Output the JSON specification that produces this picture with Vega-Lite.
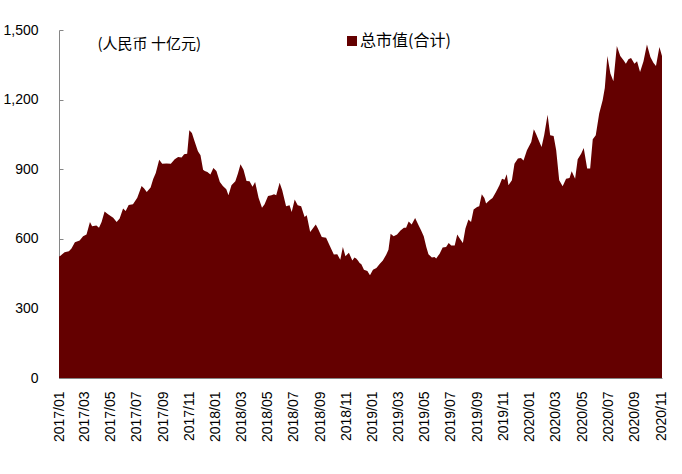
{
  "$schema": "https://vega.github.io/schema/vega-lite/v6.json",
  "autosize": "none",
  "padding": {"left": 59, "top": 30, "right": 20, "bottom": 96},
  "width": 603,
  "height": 348,
  "background": "#ffffff",
  "data": {
    "values": [
      {"date": "2017-01-01", "value": 525},
      {"date": "2017-01-03", "value": 525},
      {"date": "2017-01-14", "value": 542},
      {"date": "2017-01-24", "value": 546},
      {"date": "2017-01-30", "value": 558},
      {"date": "2017-02-07", "value": 585},
      {"date": "2017-02-18", "value": 593},
      {"date": "2017-02-26", "value": 611},
      {"date": "2017-03-06", "value": 619},
      {"date": "2017-03-14", "value": 672},
      {"date": "2017-03-19", "value": 654},
      {"date": "2017-03-29", "value": 657},
      {"date": "2017-04-04", "value": 648},
      {"date": "2017-04-10", "value": 672},
      {"date": "2017-04-17", "value": 718},
      {"date": "2017-04-25", "value": 706},
      {"date": "2017-05-07", "value": 691},
      {"date": "2017-05-15", "value": 672},
      {"date": "2017-05-22", "value": 687},
      {"date": "2017-05-30", "value": 731},
      {"date": "2017-06-05", "value": 720},
      {"date": "2017-06-12", "value": 746},
      {"date": "2017-06-22", "value": 749},
      {"date": "2017-07-02", "value": 777},
      {"date": "2017-07-12", "value": 828},
      {"date": "2017-07-18", "value": 817},
      {"date": "2017-07-24", "value": 802},
      {"date": "2017-08-02", "value": 821},
      {"date": "2017-08-08", "value": 858},
      {"date": "2017-08-14", "value": 884},
      {"date": "2017-08-22", "value": 941},
      {"date": "2017-08-29", "value": 924},
      {"date": "2017-09-08", "value": 925},
      {"date": "2017-09-18", "value": 924},
      {"date": "2017-09-27", "value": 943},
      {"date": "2017-10-05", "value": 953},
      {"date": "2017-10-13", "value": 950},
      {"date": "2017-10-19", "value": 964},
      {"date": "2017-10-26", "value": 967},
      {"date": "2017-10-31", "value": 1068},
      {"date": "2017-11-06", "value": 1056},
      {"date": "2017-11-12", "value": 1022},
      {"date": "2017-11-20", "value": 977},
      {"date": "2017-11-26", "value": 960},
      {"date": "2017-12-02", "value": 898},
      {"date": "2017-12-06", "value": 892},
      {"date": "2017-12-12", "value": 888},
      {"date": "2017-12-19", "value": 877},
      {"date": "2017-12-26", "value": 905},
      {"date": "2018-01-02", "value": 892},
      {"date": "2018-01-10", "value": 845},
      {"date": "2018-01-17", "value": 828},
      {"date": "2018-01-25", "value": 814},
      {"date": "2018-01-30", "value": 788},
      {"date": "2018-02-06", "value": 831},
      {"date": "2018-02-15", "value": 848},
      {"date": "2018-02-21", "value": 881},
      {"date": "2018-02-27", "value": 921},
      {"date": "2018-03-06", "value": 898},
      {"date": "2018-03-13", "value": 849},
      {"date": "2018-03-20", "value": 848},
      {"date": "2018-03-27", "value": 824},
      {"date": "2018-04-02", "value": 845},
      {"date": "2018-04-10", "value": 777},
      {"date": "2018-04-18", "value": 734},
      {"date": "2018-04-24", "value": 749},
      {"date": "2018-05-02", "value": 784},
      {"date": "2018-05-10", "value": 788},
      {"date": "2018-05-16", "value": 792},
      {"date": "2018-05-21", "value": 788},
      {"date": "2018-05-29", "value": 842},
      {"date": "2018-06-04", "value": 809},
      {"date": "2018-06-13", "value": 740},
      {"date": "2018-06-21", "value": 745},
      {"date": "2018-06-26", "value": 716},
      {"date": "2018-07-03", "value": 769},
      {"date": "2018-07-10", "value": 745},
      {"date": "2018-07-18", "value": 740},
      {"date": "2018-07-26", "value": 694},
      {"date": "2018-07-31", "value": 701},
      {"date": "2018-08-08", "value": 629},
      {"date": "2018-08-21", "value": 662},
      {"date": "2018-08-26", "value": 644},
      {"date": "2018-09-04", "value": 608},
      {"date": "2018-09-14", "value": 605},
      {"date": "2018-09-22", "value": 572},
      {"date": "2018-10-02", "value": 532},
      {"date": "2018-10-10", "value": 533},
      {"date": "2018-10-17", "value": 510},
      {"date": "2018-10-23", "value": 565},
      {"date": "2018-10-29", "value": 525},
      {"date": "2018-11-06", "value": 540},
      {"date": "2018-11-14", "value": 507},
      {"date": "2018-11-19", "value": 519},
      {"date": "2018-11-23", "value": 515},
      {"date": "2018-11-27", "value": 507},
      {"date": "2018-12-01", "value": 496},
      {"date": "2018-12-05", "value": 490},
      {"date": "2018-12-11", "value": 467},
      {"date": "2018-12-19", "value": 461},
      {"date": "2018-12-25", "value": 443},
      {"date": "2019-01-01", "value": 467},
      {"date": "2019-01-09", "value": 474},
      {"date": "2019-01-16", "value": 490},
      {"date": "2019-01-24", "value": 507},
      {"date": "2019-02-01", "value": 532},
      {"date": "2019-02-06", "value": 553},
      {"date": "2019-02-11", "value": 622},
      {"date": "2019-02-18", "value": 611},
      {"date": "2019-02-26", "value": 619},
      {"date": "2019-03-06", "value": 636},
      {"date": "2019-03-14", "value": 648},
      {"date": "2019-03-19", "value": 648},
      {"date": "2019-03-25", "value": 675},
      {"date": "2019-04-01", "value": 662},
      {"date": "2019-04-09", "value": 690},
      {"date": "2019-04-17", "value": 658},
      {"date": "2019-04-23", "value": 636},
      {"date": "2019-04-29", "value": 611},
      {"date": "2019-05-05", "value": 565},
      {"date": "2019-05-10", "value": 533},
      {"date": "2019-05-18", "value": 519},
      {"date": "2019-05-24", "value": 522},
      {"date": "2019-05-28", "value": 515},
      {"date": "2019-06-05", "value": 536},
      {"date": "2019-06-12", "value": 562},
      {"date": "2019-06-20", "value": 565},
      {"date": "2019-06-26", "value": 582},
      {"date": "2019-07-02", "value": 571},
      {"date": "2019-07-10", "value": 571},
      {"date": "2019-07-16", "value": 618},
      {"date": "2019-07-21", "value": 603},
      {"date": "2019-07-29", "value": 582},
      {"date": "2019-08-04", "value": 644},
      {"date": "2019-08-11", "value": 683},
      {"date": "2019-08-17", "value": 672},
      {"date": "2019-08-23", "value": 726},
      {"date": "2019-08-31", "value": 737},
      {"date": "2019-09-05", "value": 740},
      {"date": "2019-09-11", "value": 792},
      {"date": "2019-09-17", "value": 776},
      {"date": "2019-09-21", "value": 752},
      {"date": "2019-09-29", "value": 766},
      {"date": "2019-10-06", "value": 776},
      {"date": "2019-10-14", "value": 802},
      {"date": "2019-10-22", "value": 831},
      {"date": "2019-10-28", "value": 859},
      {"date": "2019-11-03", "value": 855},
      {"date": "2019-11-08", "value": 878},
      {"date": "2019-11-12", "value": 831},
      {"date": "2019-11-20", "value": 852},
      {"date": "2019-11-26", "value": 924},
      {"date": "2019-12-04", "value": 946},
      {"date": "2019-12-11", "value": 948},
      {"date": "2019-12-17", "value": 938},
      {"date": "2019-12-25", "value": 982},
      {"date": "2020-01-04", "value": 1017},
      {"date": "2020-01-10", "value": 1072},
      {"date": "2020-01-15", "value": 1053},
      {"date": "2020-01-23", "value": 1017},
      {"date": "2020-01-28", "value": 996},
      {"date": "2020-02-03", "value": 1046},
      {"date": "2020-02-11", "value": 1135},
      {"date": "2020-02-17", "value": 1046},
      {"date": "2020-02-25", "value": 1043},
      {"date": "2020-03-02", "value": 982},
      {"date": "2020-03-09", "value": 852},
      {"date": "2020-03-17", "value": 826},
      {"date": "2020-03-25", "value": 859},
      {"date": "2020-04-02", "value": 862},
      {"date": "2020-04-07", "value": 891},
      {"date": "2020-04-15", "value": 859},
      {"date": "2020-04-21", "value": 943},
      {"date": "2020-04-29", "value": 967},
      {"date": "2020-05-05", "value": 991},
      {"date": "2020-05-13", "value": 903},
      {"date": "2020-05-20", "value": 903},
      {"date": "2020-05-26", "value": 1029},
      {"date": "2020-06-02", "value": 1046},
      {"date": "2020-06-10", "value": 1140},
      {"date": "2020-06-18", "value": 1197},
      {"date": "2020-06-23", "value": 1250},
      {"date": "2020-06-29", "value": 1388},
      {"date": "2020-07-06", "value": 1312},
      {"date": "2020-07-13", "value": 1279},
      {"date": "2020-07-21", "value": 1431},
      {"date": "2020-07-29", "value": 1388},
      {"date": "2020-08-06", "value": 1369},
      {"date": "2020-08-11", "value": 1355},
      {"date": "2020-08-17", "value": 1374},
      {"date": "2020-08-23", "value": 1379},
      {"date": "2020-08-31", "value": 1355},
      {"date": "2020-09-06", "value": 1365},
      {"date": "2020-09-13", "value": 1319},
      {"date": "2020-09-21", "value": 1365},
      {"date": "2020-09-29", "value": 1437},
      {"date": "2020-10-07", "value": 1384},
      {"date": "2020-10-14", "value": 1359},
      {"date": "2020-10-20", "value": 1345},
      {"date": "2020-10-28", "value": 1427},
      {"date": "2020-11-03", "value": 1388}
    ]
  },
  "mark": {"type": "area", "interpolate": "linear"},
  "encoding": {
    "x": {
      "field": "date",
      "type": "temporal",
      "scale": {
        "nice": false,
        "domain": ["2017-01-01", "2020-11-03"]
      },
      "axis": {
        "title": null,
        "format": "%Y/%m",
        "tickCount": {"interval": "month", "step": 2},
        "labelAngle": -90,
        "labelFlush": false,
        "labelOverlap": false,
        "labelFont": "Liberation Sans",
        "labelFontSize": 14,
        "labelColor": "#000000",
        "labelPadding": 17,
        "tickSize": -4,
        "tickColor": "#868686",
        "domainColor": "#868686",
        "grid": false
      }
    },
    "y": {
      "field": "value",
      "type": "quantitative",
      "scale": {"domain": [0, 1500], "nice": false},
      "axis": {
        "values": [0, 300, 600, 900, 1200, 1500],
        "format": ",.0f",
        "title": "(人民币 十亿元)",
        "titleAngle": 0,
        "titleX": 38,
        "titleY": 13,
        "titleAlign": "left",
        "titleBaseline": "middle",
        "titleFont": "Noto Sans CJK SC",
        "titleFontSize": 15,
        "titleFontWeight": "normal",
        "titleColor": "#000000",
        "labelFont": "Liberation Sans",
        "labelFontSize": 14,
        "labelColor": "#000000",
        "labelPadding": 25,
        "tickSize": -4,
        "tickColor": "#868686",
        "domainColor": "#868686",
        "grid": false
      }
    },
    "color": {
      "datum": "总市值(合计)",
      "type": "nominal",
      "scale": {"range": ["#640000"]},
      "legend": {
        "title": null,
        "orient": "none",
        "legendX": 285,
        "legendY": 3,
        "padding": 0,
        "symbolType": "square",
        "symbolSize": 100,
        "symbolStrokeWidth": 0,
        "labelOffset": 0,
        "labelFont": "Noto Sans CJK SC",
        "labelFontSize": 16,
        "labelColor": "#000000"
      }
    }
  },
  "config": {"view": {"stroke": null}}
}
